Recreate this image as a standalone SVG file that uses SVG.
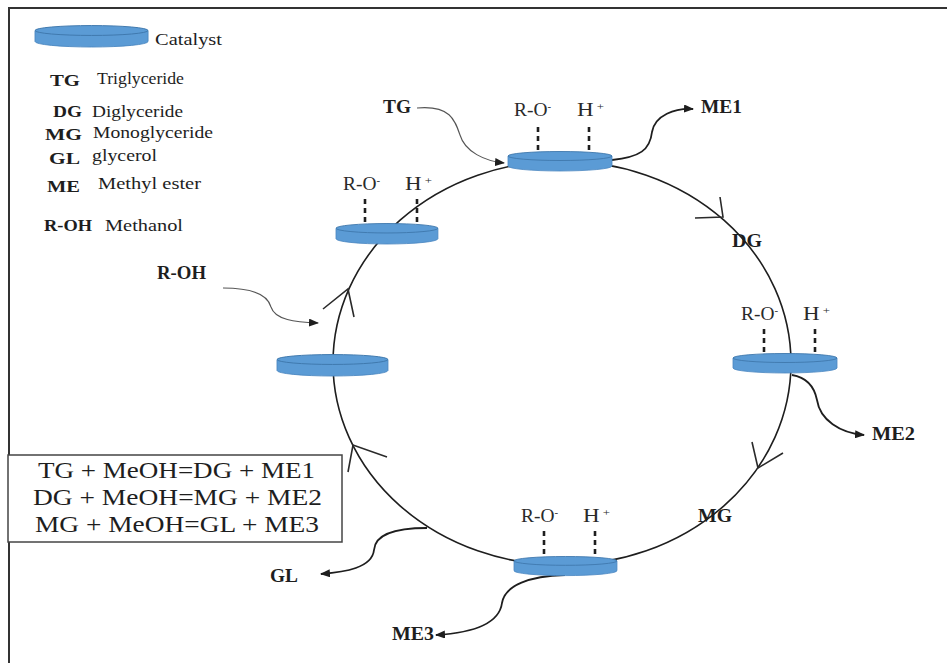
<svg xmlns="http://www.w3.org/2000/svg" xmlns:xlink="http://www.w3.org/1999/xlink" width="947" height="663" viewBox="0 0 947 663">
<style>
.t{font-family:"Liberation Serif","Times New Roman",serif;fill:#1e1e1e}
.b{font-weight:bold}
.leg{font-size:17px}
.lab{font-size:18px}
.site{font-size:18px;fill:#2a2a2a}
.eq{font-size:23px}
.cyc{fill:none;stroke:#1e1e1e;stroke-width:1.6}
.chev{fill:none;stroke:#2a2a2a;stroke-width:1.6}
.prod{fill:none;stroke:#1e1e1e;stroke-width:1.8}
.feed{fill:none;stroke:#555;stroke-width:1.1}
.dash{stroke:#1e1e1e;stroke-width:2.6;stroke-dasharray:5 4}
</style>
<defs>
<g id="cat">
<path d="M0,5 V15 A52,5 0 0 0 104,15 V5 Z" fill="#5b9bd5" stroke="#4a86c0" stroke-width="0.8"/>
<ellipse cx="52" cy="5" rx="52" ry="4.5" fill="#5b9bd5" stroke="#3f78ad" stroke-width="0.9"/>
</g>
<marker id="ah" viewBox="0 0 10 8" refX="9" refY="4" markerWidth="10" markerHeight="8" markerUnits="userSpaceOnUse" orient="auto">
<path d="M0,0 L10,4 L0,8 Z" fill="#1e1e1e"/>
</marker>
</defs>
<rect width="947" height="663" fill="#fff"/>
<g id="frame">
<path d="M9,663 V8 H947" fill="none" stroke="#333" stroke-width="2"/>
</g>

<g id="connectors">
<ellipse class="cyc" cx="562" cy="363" rx="229" ry="202"/>
<polyline class="chev" points="695,218 723,217 720,197"/>
<polyline class="chev" points="752,442 758,468 783,453"/>
<polyline class="chev" points="387,457 353,445 348,472"/>
<polyline class="chev" points="323,309 348,289 354,317"/>
<path class="feed" d="M417,108 C450,105 455,120 460,135 C465,152 485,161 504,163" marker-end="url(#ah)"/>
<path class="feed" d="M223,288 C255,288 268,296 271,307 C275,320 295,322 318,323" marker-end="url(#ah)"/>
<path class="prod" d="M612,160 C640,157 650,150 652,132 C655,115 675,108 693,109" marker-end="url(#ah)"/>
<path class="prod" d="M792,375 C810,378 815,390 817,400 C820,420 840,433 864,435" marker-end="url(#ah)"/>
<path class="prod" d="M565,575 C530,576 505,585 502,603 C499,625 470,633 436,635" marker-end="url(#ah)"/>
<path class="prod" d="M427,528 C395,528 375,535 374,550 C372,568 345,572 321,574" marker-end="url(#ah)"/>
</g>

<g id="legend">
<use xlink:href="#cat" transform="translate(35,25) scale(1.087,1.1)"/>
<text class="t leg" x="155" y="45" textLength="67" lengthAdjust="spacingAndGlyphs">Catalyst</text>
<text class="t leg b" x="50" y="86" textLength="30" lengthAdjust="spacingAndGlyphs">TG</text>
<text class="t leg" x="97" y="84" textLength="87" lengthAdjust="spacingAndGlyphs">Triglyceride</text>
<text class="t leg b" x="53" y="117" textLength="29" lengthAdjust="spacingAndGlyphs">DG</text>
<text class="t leg" x="92" y="117" textLength="91" lengthAdjust="spacingAndGlyphs">Diglyceride</text>
<text class="t leg b" x="45" y="140" textLength="37" lengthAdjust="spacingAndGlyphs">MG</text>
<text class="t leg" x="93" y="138" textLength="120" lengthAdjust="spacingAndGlyphs">Monoglyceride</text>
<text class="t leg b" x="49" y="164" textLength="31" lengthAdjust="spacingAndGlyphs">GL</text>
<text class="t leg" x="92" y="161" textLength="65" lengthAdjust="spacingAndGlyphs">glycerol</text>
<text class="t leg b" x="47" y="192" textLength="33" lengthAdjust="spacingAndGlyphs">ME</text>
<text class="t leg" x="98" y="189" textLength="103" lengthAdjust="spacingAndGlyphs">Methyl ester</text>
<text class="t leg b" x="44" y="231" textLength="48" lengthAdjust="spacingAndGlyphs">R-OH</text>
<text class="t leg" x="105" y="231" textLength="78" lengthAdjust="spacingAndGlyphs">Methanol</text>
</g>

<g id="catalyst-top">
<line class="dash" x1="538" y1="127" x2="538" y2="152"/>
<line class="dash" x1="589" y1="127" x2="589" y2="152"/>
<use xlink:href="#cat" transform="translate(508,151)"/>
<text class="t site" x="514" y="116" textLength="37" lengthAdjust="spacingAndGlyphs">R-O<tspan dy="-6" font-size="10">-</tspan></text>
<text class="t site" x="577" y="116" textLength="27" lengthAdjust="spacingAndGlyphs">H<tspan dy="-6" font-size="10"> +</tspan></text>
</g>

<g id="catalyst-upper-left">
<line class="dash" x1="365" y1="199" x2="365" y2="224"/>
<line class="dash" x1="417" y1="199" x2="417" y2="224"/>
<use xlink:href="#cat" transform="translate(336,223) scale(0.98,1.05)"/>
<text class="t site" x="343" y="190" textLength="37" lengthAdjust="spacingAndGlyphs">R-O<tspan dy="-6" font-size="10">-</tspan></text>
<text class="t site" x="405" y="190" textLength="27" lengthAdjust="spacingAndGlyphs">H<tspan dy="-6" font-size="10"> +</tspan></text>
</g>

<g id="catalyst-left">
<use xlink:href="#cat" transform="translate(277,354) scale(1.067,1.1)"/>
</g>

<g id="catalyst-right">
<line class="dash" x1="764" y1="329" x2="764" y2="354"/>
<line class="dash" x1="815" y1="329" x2="815" y2="354"/>
<use xlink:href="#cat" transform="translate(733,353)"/>
<text class="t site" x="741" y="320" textLength="37" lengthAdjust="spacingAndGlyphs">R-O<tspan dy="-6" font-size="10">-</tspan></text>
<text class="t site" x="803" y="320" textLength="27" lengthAdjust="spacingAndGlyphs">H<tspan dy="-6" font-size="10"> +</tspan></text>
</g>

<g id="catalyst-bottom">
<line class="dash" x1="544" y1="531" x2="544" y2="557"/>
<line class="dash" x1="595" y1="531" x2="595" y2="557"/>
<use xlink:href="#cat" transform="translate(514,556) scale(0.99,0.98)"/>
<text class="t site" x="521" y="522" textLength="37" lengthAdjust="spacingAndGlyphs">R-O<tspan dy="-6" font-size="10">-</tspan></text>
<text class="t site" x="583" y="522" textLength="27" lengthAdjust="spacingAndGlyphs">H<tspan dy="-6" font-size="10"> +</tspan></text>
</g>

<g id="label-TG"><text class="t lab b" x="383" y="113" textLength="28" lengthAdjust="spacingAndGlyphs">TG</text></g>
<g id="label-ME1"><text class="t lab b" x="701" y="113" textLength="41" lengthAdjust="spacingAndGlyphs">ME1</text></g>
<g id="label-DG"><text class="t lab b" x="732" y="247" textLength="30" lengthAdjust="spacingAndGlyphs">DG</text></g>
<g id="label-ROH"><text class="t lab b" x="157" y="279" textLength="49" lengthAdjust="spacingAndGlyphs">R-OH</text></g>
<g id="label-ME2"><text class="t lab b" x="872" y="440" textLength="43" lengthAdjust="spacingAndGlyphs">ME2</text></g>
<g id="label-MG"><text class="t lab b" x="698" y="522" textLength="34" lengthAdjust="spacingAndGlyphs">MG</text></g>
<g id="label-GL"><text class="t lab b" x="270" y="582" textLength="28" lengthAdjust="spacingAndGlyphs">GL</text></g>
<g id="label-ME3"><text class="t lab b" x="392" y="640" textLength="42" lengthAdjust="spacingAndGlyphs">ME3</text></g>

<g id="equations">
<rect x="8" y="455" width="334" height="87" fill="#fff" stroke="#444" stroke-width="1.5"/>
<text class="t eq" x="38" y="478" textLength="277" lengthAdjust="spacingAndGlyphs">TG + MeOH=DG + ME1</text>
<text class="t eq" x="33" y="505" textLength="289" lengthAdjust="spacingAndGlyphs">DG + MeOH=MG + ME2</text>
<text class="t eq" x="35" y="532" textLength="284" lengthAdjust="spacingAndGlyphs">MG + MeOH=GL + ME3</text>
</g>
</svg>
